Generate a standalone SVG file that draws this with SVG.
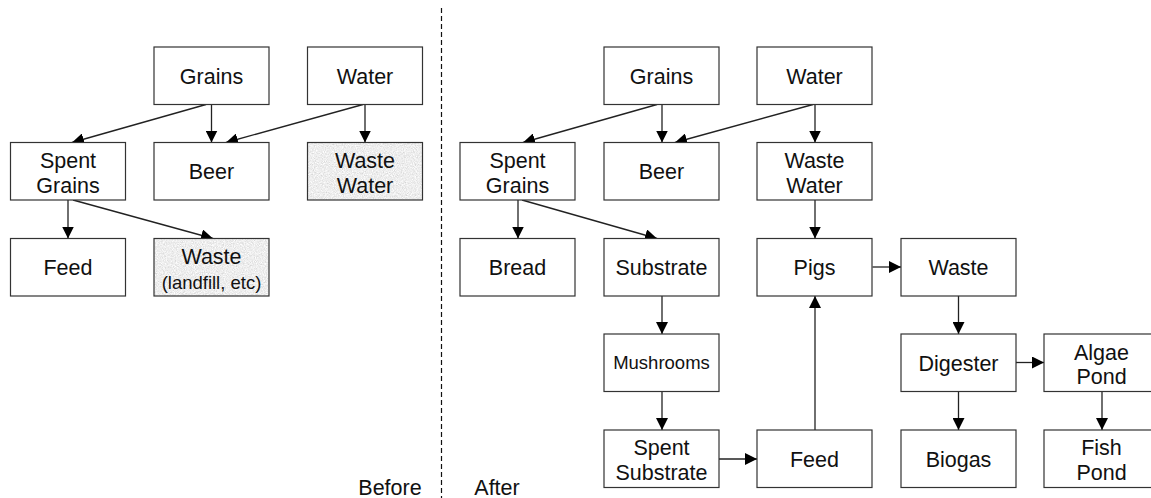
<svg xmlns="http://www.w3.org/2000/svg" width="1151" height="498" viewBox="0 0 1151 498">
<style>
.box{fill:#fff;stroke:#333;stroke-width:1.2}
.frame{fill:none;stroke:#333;stroke-width:1.2}
.t{font-family:"Liberation Sans",Arial,Helvetica,sans-serif;font-size:21.5px;fill:#111;text-anchor:middle}
.s{font-size:18.5px}
.c{fill:none;stroke:#222;stroke-width:1.3;marker-end:url(#ah)}
</style>
<defs>
<marker id="ah" markerUnits="userSpaceOnUse" markerWidth="12" markerHeight="12" refX="12" refY="6" orient="auto">
<path d="M0,0 L12,6 L0,12 z" fill="#000"/>
</marker>
<filter id="granite" x="0" y="0" width="100%" height="100%">
<feTurbulence type="fractalNoise" baseFrequency="0.9" numOctaves="2" seed="4" result="n"/>
<feColorMatrix in="n" type="matrix" values="0.35 0.35 0 0 0.5  0.35 0.35 0 0 0.5  0.35 0.35 0 0 0.5  0 0 0 0 1"/>
</filter>
</defs>
<rect width="1151" height="498" fill="#fff"/>
<line x1="441.5" y1="8" x2="441.5" y2="498" stroke="#111" stroke-width="1.2" stroke-dasharray="5,3"/>
<text class="t" x="390" y="495">Before</text>
<text class="t" x="497" y="495">After</text>

<g id="connectors">
<line class="c" x1="206" y1="104.5" x2="72" y2="142.5"/>
<line class="c" x1="211.5" y1="104.5" x2="211.5" y2="142.5"/>
<line class="c" x1="363" y1="104.5" x2="226" y2="142.5"/>
<line class="c" x1="365" y1="104.5" x2="365" y2="142.5"/>
<line class="c" x1="68" y1="200" x2="68" y2="238.5"/>
<line class="c" x1="73" y1="200" x2="213" y2="238.5"/>
<line class="c" x1="657" y1="104.5" x2="523" y2="142.5"/>
<line class="c" x1="662" y1="104.5" x2="662" y2="142.5"/>
<line class="c" x1="813" y1="104.5" x2="675" y2="142.5"/>
<line class="c" x1="815" y1="104.5" x2="815" y2="142.5"/>
<line class="c" x1="518" y1="200" x2="518" y2="238.5"/>
<line class="c" x1="522" y1="200" x2="657" y2="238.5"/>
<line class="c" x1="815" y1="200" x2="815" y2="238.5"/>
<line class="c" x1="662" y1="296" x2="662" y2="334"/>
<line class="c" x1="662" y1="391.5" x2="662" y2="430"/>
<line class="c" x1="719" y1="459" x2="757" y2="459"/>
<line class="c" x1="815" y1="430" x2="815" y2="296"/>
<line class="c" x1="872.5" y1="267" x2="901" y2="267"/>
<line class="c" x1="958.5" y1="296" x2="958.5" y2="334"/>
<line class="c" x1="1016" y1="362.5" x2="1044" y2="362.5"/>
<line class="c" x1="958.5" y1="391.5" x2="958.5" y2="430"/>
<line class="c" x1="1102" y1="391.5" x2="1102" y2="430"/>
</g>

<!-- Before -->
<g id="b-grains"><rect class="box" x="154" y="47" width="115" height="57.5"/><text class="t" x="211.5" y="83.5">Grains</text></g>
<g id="b-water"><rect class="box" x="307.5" y="47" width="115" height="57.5"/><text class="t" x="365" y="83.5">Water</text></g>
<g id="b-spent-grains"><rect class="box" x="10.5" y="142.5" width="115" height="57.5"/><text class="t" x="68" y="167.5">Spent</text><text class="t" x="68" y="192.5">Grains</text></g>
<g id="b-beer"><rect class="box" x="154" y="142.5" width="115" height="57.5"/><text class="t" x="211.5" y="179">Beer</text></g>
<g id="b-waste-water"><rect x="307.5" y="142.5" width="115" height="57.5" fill="#ddd" filter="url(#granite)"/><rect class="frame" x="307.5" y="142.5" width="115" height="57.5"/><text class="t" x="365" y="167.5">Waste</text><text class="t" x="365" y="192.5">Water</text></g>
<g id="b-feed"><rect class="box" x="10.5" y="238.5" width="115" height="57.5"/><text class="t" x="68" y="275">Feed</text></g>
<g id="b-waste"><rect x="154" y="238.5" width="115" height="57.5" fill="#ddd" filter="url(#granite)"/><rect class="frame" x="154" y="238.5" width="115" height="57.5"/><text class="t" x="211.5" y="263.5">Waste</text><text class="t s" x="211.5" y="289">(landfill, etc)</text></g>

<!-- After -->
<g id="a-grains"><rect class="box" x="604" y="47" width="115" height="57.5"/><text class="t" x="661.5" y="83.5">Grains</text></g>
<g id="a-water"><rect class="box" x="757" y="47" width="115" height="57.5"/><text class="t" x="814.5" y="83.5">Water</text></g>
<g id="a-spent-grains"><rect class="box" x="460" y="142.5" width="115" height="57.5"/><text class="t" x="517.5" y="167.5">Spent</text><text class="t" x="517.5" y="192.5">Grains</text></g>
<g id="a-beer"><rect class="box" x="604" y="142.5" width="115" height="57.5"/><text class="t" x="661.5" y="179">Beer</text></g>
<g id="a-waste-water"><rect class="box" x="757" y="142.5" width="115" height="57.5"/><text class="t" x="814.5" y="167.5">Waste</text><text class="t" x="814.5" y="192.5">Water</text></g>
<g id="a-bread"><rect class="box" x="460" y="238.5" width="115" height="57.5"/><text class="t" x="517.5" y="275">Bread</text></g>
<g id="a-substrate"><rect class="box" x="604" y="238.5" width="115" height="57.5"/><text class="t" x="661.5" y="275">Substrate</text></g>
<g id="a-pigs"><rect class="box" x="757" y="238.5" width="115" height="57.5"/><text class="t" x="814.5" y="275">Pigs</text></g>
<g id="a-waste"><rect class="box" x="901" y="238.5" width="115" height="57.5"/><text class="t" x="958.5" y="275">Waste</text></g>
<g id="a-mushrooms"><rect class="box" x="604" y="334" width="115" height="57.5"/><text class="t s" x="661.5" y="369">Mushrooms</text></g>
<g id="a-digester"><rect class="box" x="901" y="334" width="115" height="57.5"/><text class="t" x="958.5" y="370.5">Digester</text></g>
<g id="a-algae-pond"><rect class="box" x="1044" y="334" width="115" height="57.5"/><text class="t" x="1101.5" y="359.5">Algae</text><text class="t" x="1101.5" y="384">Pond</text></g>
<g id="a-spent-substrate"><rect class="box" x="604" y="430" width="115" height="57.5"/><text class="t" x="661.5" y="455">Spent</text><text class="t" x="661.5" y="480">Substrate</text></g>
<g id="a-feed"><rect class="box" x="757" y="430" width="115" height="57.5"/><text class="t" x="814.5" y="466.5">Feed</text></g>
<g id="a-biogas"><rect class="box" x="901" y="430" width="115" height="57.5"/><text class="t" x="958.5" y="466.5">Biogas</text></g>
<g id="a-fish-pond"><rect class="box" x="1044" y="430" width="115" height="57.5"/><text class="t" x="1101.5" y="455">Fish</text><text class="t" x="1101.5" y="480">Pond</text></g>
</svg>
